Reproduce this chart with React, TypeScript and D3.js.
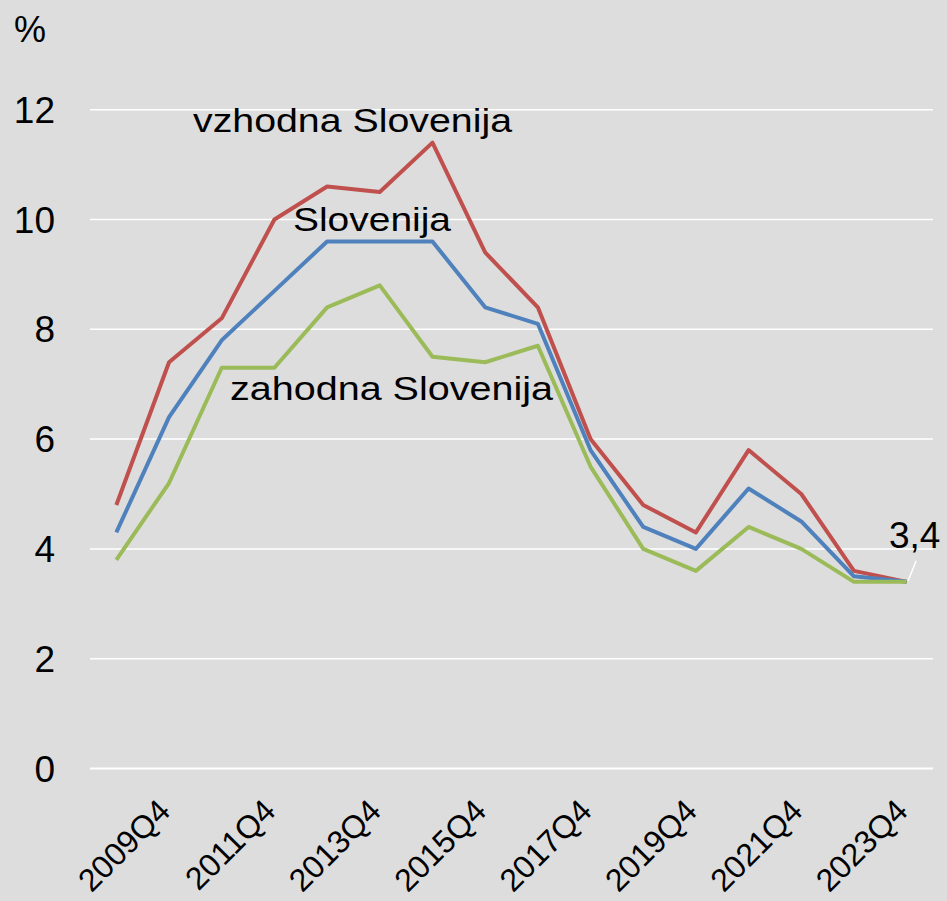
import React from "react";
import * as d3 from "d3";

const categories = [
  "2008Q4", "2009Q4", "2010Q4", "2011Q4", "2012Q4", "2013Q4", "2014Q4", "2015Q4",
  "2016Q4", "2017Q4", "2018Q4", "2019Q4", "2020Q4", "2021Q4", "2022Q4", "2023Q4",
];
const vzhodna = [4.8, 7.4, 8.2, 10.0, 10.6, 10.5, 11.4, 9.4, 8.4, 6.0, 4.8, 4.3, 5.8, 5.0, 3.6, 3.4];
const slovenija = [4.3, 6.4, 7.8, 8.7, 9.6, 9.6, 9.6, 8.4, 8.1, 5.8, 4.4, 4.0, 5.1, 4.5, 3.5, 3.4];
const zahodna = [3.8, 5.2, 7.3, 7.3, 8.4, 8.8, 7.5, 7.4, 7.7, 5.5, 4.0, 3.6, 4.4, 4.0, 3.4, 3.4];
const yTicks = [0, 2, 4, 6, 8, 10, 12];
const shownLabels = ["2009Q4", "2011Q4", "2013Q4", "2015Q4", "2017Q4", "2019Q4", "2021Q4", "2023Q4"];

const W = 947;
const H = 901;
const FONT = "'Liberation Sans', Arial, sans-serif";

export default function App() {
  const x = d3.scaleBand<string>().domain(categories).range([90, 933]);
  const cx = (c: string) => (x(c) as number) + x.bandwidth() / 2;
  const y = d3.scaleLinear().domain([0, 12]).range([768.5, 109.7]);

  const line = (vals: number[]) =>
    d3.line<number>()
      .x((_, i) => cx(categories[i]))
      .y((v) => y(v))(vals) as string;

  const series = [
    { vals: vzhodna, color: "#C0504D" },
    { vals: slovenija, color: "#4F81BD" },
    { vals: zahodna, color: "#9BBB59" },
  ];

  const lastC = categories[categories.length - 1];
  const lastV = slovenija[slovenija.length - 1];

  return (
    <svg
      width={W}
      height={H}
      style={{ position: "absolute", left: 0, top: 0, display: "block" }}
      fontFamily={FONT}
    >
      <rect x={0} y={0} width={W} height={H} fill="#dddddd" />
      {yTicks.map((t) => (
        <g key={t}>
          <line x1={90} x2={933} y1={y(t)} y2={y(t)} stroke="#ffffff" strokeWidth={t === 0 ? 2 : 1.5} />
          <text x={55} y={y(t) + 13} textAnchor="end" fontSize={37} fill="#000">
            {t}
          </text>
        </g>
      ))}
      <text x={14} y={42} fontSize={36} fill="#000">%</text>

      {series.map((s, i) => (
        <path
          key={i}
          d={line(s.vals)}
          fill="none"
          stroke={s.color}
          strokeWidth={4}
          strokeLinejoin="round"
        />
      ))}

      {shownLabels.map((c) => (
        <text
          key={c}
          transform={`translate(${cx(c) + 3},813) rotate(-45)`}
          textAnchor="end"
          fontSize={32}
          fill="#000"
        >
          {c}
        </text>
      ))}

      <text x={193} y={131.5} fontSize={34} textLength={319} lengthAdjust="spacingAndGlyphs" fill="#000">
        vzhodna Slovenija
      </text>
      <text x={293} y={231} fontSize={34} textLength={158} lengthAdjust="spacingAndGlyphs" fill="#000">
        Slovenija
      </text>
      <text x={230} y={400} fontSize={34} textLength={323} lengthAdjust="spacingAndGlyphs" fill="#000">
        zahodna Slovenija
      </text>

      <line
        x1={cx(lastC) + 1.5}
        y1={y(lastV) - 1}
        x2={cx(lastC) + 9.5}
        y2={y(lastV) - 21}
        stroke="#ffffff"
        strokeWidth={1.5}
      />
      <text x={889} y={548} fontSize={37} fill="#000">3,4</text>
    </svg>
  );
}
